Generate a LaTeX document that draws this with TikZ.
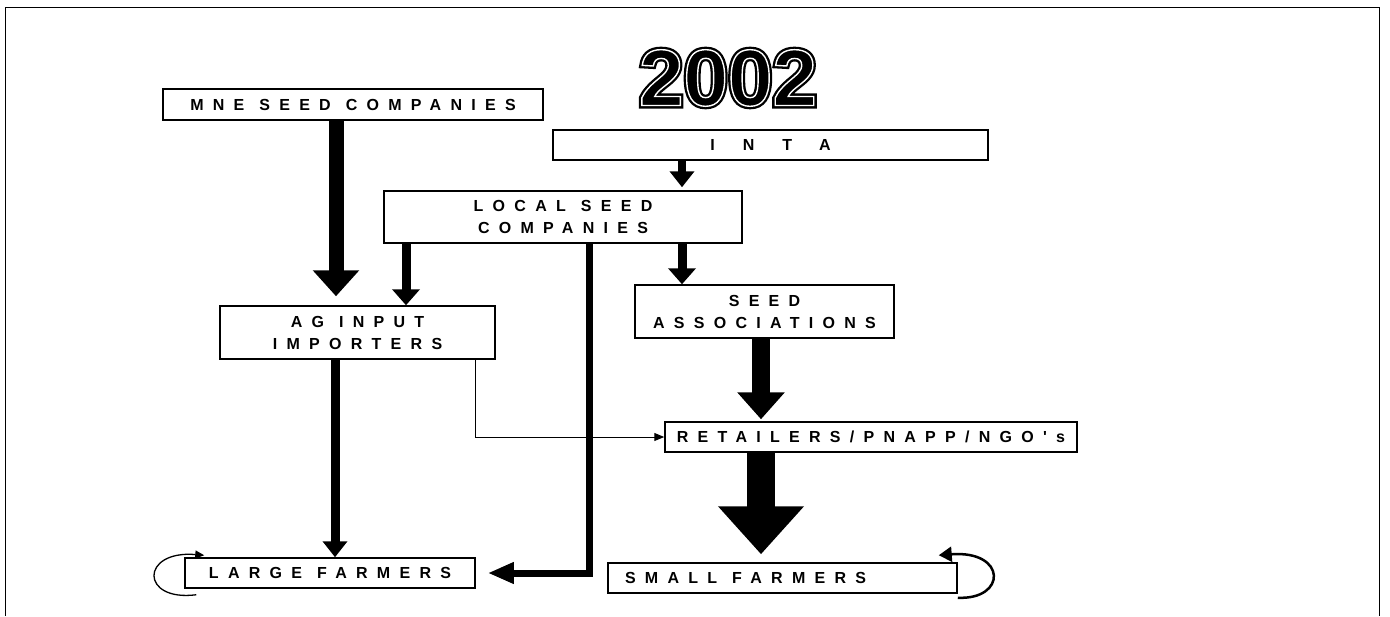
\documentclass[tikz,border=0pt]{standalone}
\usepackage{fontspec}
\setmainfont{Liberation Sans}
\newfontfamily\boxfont{Liberation Sans}[LetterSpace=58]
\newfontfamily\intafont{Liberation Sans}[LetterSpace=175]
\usetikzlibrary{arrows.meta,positioning,calc}
\newcommand{\ws}{\hspace{15pt}}
% black rim, white inner line, black body
\newcommand{\rimmed}[1]{\rlap{\special{pdf:literal direct 2 Tr 6 w 0 0 0 RG}#1\special{pdf:literal direct 0 Tr 1 w}}%
  \special{pdf:literal direct 2 Tr 1.4 w 1 1 1 RG}#1\special{pdf:literal direct 0 Tr 1 w 0 0 0 RG}}
\tikzset{
  org/.style={draw,line width=1.5pt,inner sep=0pt,align=center,
    font=\boxfont\bfseries\fontsize{16}{22}\selectfont},
  flow/.style n args={3}{line width=#1pt,-{Triangle[length=#2pt,width=#3pt]}},
  yearfont/.style={font=\bfseries\fontsize{80}{80}\selectfont}
}

\begin{document}
\begin{tikzpicture}[x=1pt,y=-1pt]
  \useasboundingbox (0,0) rectangle (1390,616);
  % frame
  \draw[line width=1pt] (5,616) -- (5,7) -- (1379,7) -- (1379,616);
  \node[yearfont] (year) at (728,78) {\rimmed{2002}};
  % boxes
  \node[org,minimum width=380,minimum height=31] (mne) at (353,104.5) {MNE\ws SEED\ws COMPANIES};
  \node[org,minimum width=435,minimum height=30,font=\intafont\bfseries\fontsize{16}{22}\selectfont] (inta) at (770.5,145) {INTA};
  \node[org,minimum width=358,minimum height=52] (lsc) at (563,217) {LOCAL\ws SEED\\COMPANIES};
  \node[org,minimum width=275,minimum height=53] (ag) at (357.5,332.5) {AG\ws INPUT\\IMPORTERS};
  \node[org,minimum width=259,minimum height=53] (sa) at (764.5,311.5) {SEED\\ASSOCIATIONS};
  \node[org,minimum width=412,minimum height=30] (ret) at (871,437) {RETAILERS/PNAPP/NGO's};
  \node[org,minimum width=290,minimum height=30] (lf) at (330,573) {LARGE\ws FARMERS};
  \node[org,minimum width=349,minimum height=30,text width=315,align=left] (sm) at (782.5,578) {SMALL\ws FARMERS};
  % flows
  \draw[flow={15}{26}{45},shorten >=9pt] ([xshift=-17pt]mne.south) -- ([xshift=-21.5pt]ag.north);
  \draw[flow={8}{16}{24},shorten >=3pt] ([xshift=-88.5pt]inta.south) -- ([xshift=119pt]lsc.north);
  \draw[flow={9}{16}{27}] ([xshift=-157pt]lsc.south) -- ([xshift=48.5pt]ag.north);
  \draw[flow={9}{16}{27}] ([xshift=119pt]lsc.south) -- ([xshift=-82.5pt]sa.north);
  \draw[flow={7}{26}{20},shorten >=12pt] ([xshift=26pt]lsc.south) |- (lf.east);
  \draw[flow={9}{16}{24}] ([xshift=-22.5pt]ag.south) -- ([xshift=5pt]lf.north);
  \draw[line width=1pt,-{Triangle[length=10pt,width=8pt]}] ([xshift=117.5pt]ag.south) |- (ret.west);
  \draw[flow={18}{27}{46},shorten >=2pt] ([xshift=-3.5pt]sa.south) -- ([xshift=-110pt]ret.north);
  \draw[flow={28}{48}{83},shorten >=8pt] ([xshift=-110pt]ret.south) -- ([xshift=-21.5pt]sm.north);
  % loops
  \draw[line width=1.3pt,-{Triangle[length=9pt,width=8pt]}] ([xshift=12pt,yshift=-6pt]lf.south west)
    .. controls (140,602) and (140,550) .. ([xshift=20pt,yshift=2pt]lf.north west);
  \draw[line width=2.5pt,-{Triangle[length=13pt,width=15pt]}] ([yshift=-4pt]sm.south east)
    .. controls (1007,600) and (1007,550) .. ([xshift=-19pt,yshift=7pt]sm.north east);
\end{tikzpicture}
\end{document}
